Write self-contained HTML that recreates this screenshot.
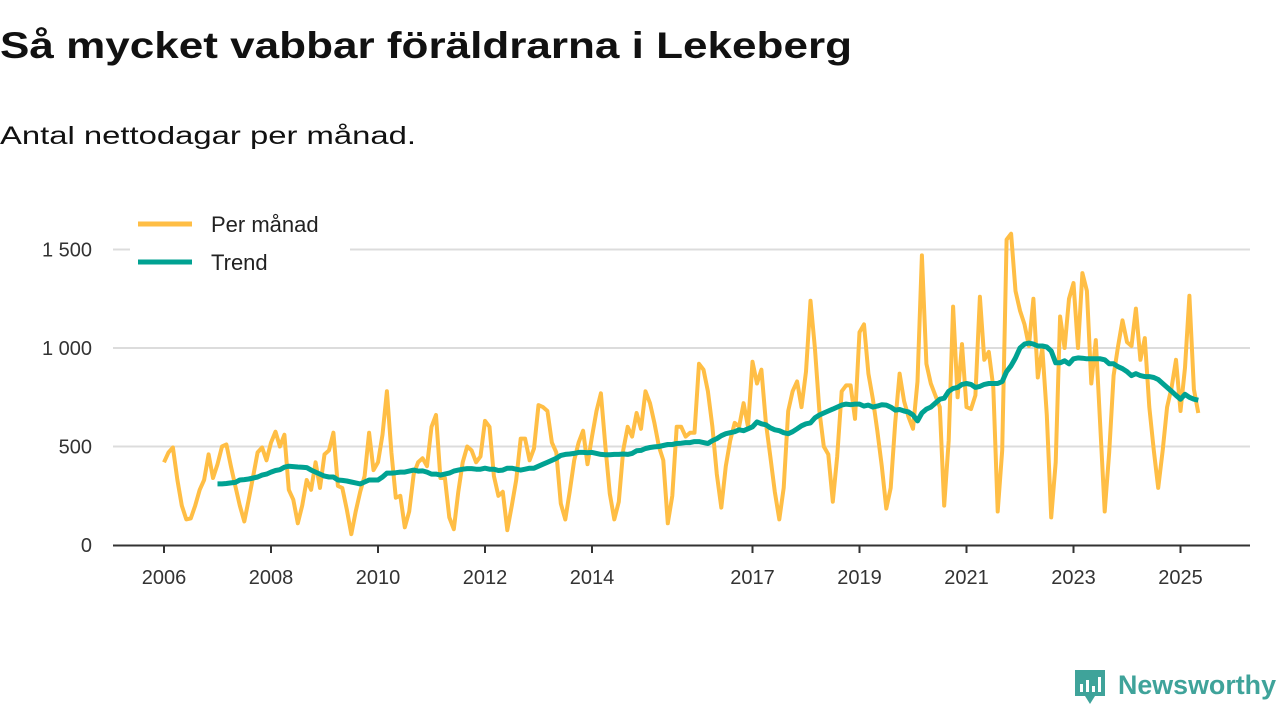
<!DOCTYPE html>
<html><head><meta charset="utf-8"><style>
body{margin:0;background:#fff;width:1280px;height:720px;overflow:hidden;font-family:"Liberation Sans","DejaVu Sans",sans-serif}
</style></head><body>
<svg width="1280" height="720" xmlns="http://www.w3.org/2000/svg" font-family="Liberation Sans, DejaVu Sans, sans-serif">
<text x="0" y="58" font-size="37" font-weight="bold" fill="#111" textLength="852" lengthAdjust="spacingAndGlyphs">Så mycket vabbar föräldrarna i Lekeberg</text>
<text x="0" y="144" font-size="25" fill="#111" textLength="416" lengthAdjust="spacingAndGlyphs">Antal nettodagar per månad.</text>
<g id="grid"></g>
<g id="axes"></g>
<g id="series"></g>
<g>
<rect x="130" y="205" width="220" height="78" fill="#fff"/>
<line x1="138" y1="224" x2="192" y2="224" stroke="#ffbe45" stroke-width="5"/>
<text x="211" y="232" font-size="22" fill="#222">Per månad</text>
<line x1="138" y1="262" x2="192" y2="262" stroke="#00a292" stroke-width="5"/>
<text x="211" y="270" font-size="22" fill="#222">Trend</text>
</g>
<g>
<path d="M1075 670h30v26h-10l-5 8-5-8h-10z" fill="#3fa39a"/>
<rect x="1080" y="684" width="3" height="8" fill="#fff"/><rect x="1086" y="680" width="3" height="12" fill="#fff"/><rect x="1092" y="686" width="3" height="6" fill="#fff"/><rect x="1098" y="677" width="3" height="15" fill="#fff"/>
<text x="1118" y="694" font-size="27" font-weight="bold" fill="#3fa39a" textLength="158" lengthAdjust="spacingAndGlyphs">Newsworthy</text>
</g>
</svg>
<script>
const years=[2006,2008,2010,2012,2014,2017,2019,2021,2023,2025];
const yTicks=[0,500,1000,1500];
const yTickLabels=["0","500","1 000","1 500"];
const monthly=[
420,470,495,330,200,130,135,200,280,330,460,340,
410,500,510,400,300,200,120,230,350,470,495,430,
520,575,500,560,280,230,110,200,330,280,420,290,
460,480,570,300,290,180,55,170,270,350,570,380,
420,560,780,470,240,250,90,170,360,420,440,400,
600,660,340,340,140,80,270,420,500,480,420,450,
630,600,350,250,270,75,200,330,540,540,430,490,
710,700,680,520,470,210,130,270,430,520,580,410,
550,680,770,500,260,130,220,480,600,550,670,590,
780,720,620,500,430,110,250,600,600,550,570,570,
920,890,780,600,360,190,400,530,620,600,720,600,
930,820,890,620,450,270,130,290,680,780,830,700,
880,1240,1000,680,500,460,220,450,780,810,810,640,
1080,1120,870,740,580,400,185,290,620,870,730,650,
590,830,1470,920,820,760,700,200,530,1210,750,1020,
700,690,760,1260,940,980,800,170,480,1550,1580,1290,
1190,1120,1010,1250,850,1000,660,140,420,1160,1000,1250,
1330,1000,1380,1290,820,1040,600,170,470,860,1010,1140,
1030,1010,1200,940,1050,700,480,290,480,700,800,940,
680,900,1265,790,670];
const trend=[
310,310,312,315,318,330,332,335,340,345,355,360,
370,378,382,395,400,398,396,395,393,380,370,360,
350,345,345,330,328,325,320,315,310,320,330,330,
330,345,365,365,367,370,370,375,380,375,376,370,
360,360,355,360,365,375,380,385,388,388,385,385,
390,385,385,378,380,390,390,385,380,385,390,390,
400,410,420,430,440,455,460,462,465,470,470,468,
470,465,460,458,458,460,460,462,460,465,478,480,
490,495,498,500,505,510,510,515,517,520,520,525,
525,520,515,530,540,555,565,570,575,585,580,590,
600,625,615,610,595,585,580,570,565,575,590,605,
615,620,645,660,670,680,690,700,710,715,712,715,
715,705,710,700,705,712,710,700,685,688,680,675,
660,630,670,690,700,720,740,745,780,795,800,815,
820,815,800,805,815,820,820,820,830,880,910,950,
1000,1020,1025,1020,1010,1010,1005,985,925,925,935,920,
945,950,948,945,945,945,945,940,920,920,905,895,
880,860,870,860,855,855,850,840,820,800,780,760,
740,765,750,740,735];
const NS="http://www.w3.org/2000/svg";
const x=t=>164+(t-2006)*53.5;
const y=v=>545-v*0.197;
function mk(tag,attrs,parent){const e=document.createElementNS(NS,tag);for(const k in attrs)e.setAttribute(k,attrs[k]);document.getElementById(parent).appendChild(e);return e;}
yTicks.forEach((v,i)=>{
  if(v>0){const g=mk('line',{x1:113,x2:1250,y1:y(v),y2:y(v),stroke:'#dcdcdc','stroke-width':2},'grid');
  
  }
  const t=mk('text',{x:92,y:y(v)+7,'font-size':20,fill:'#333','text-anchor':'end'},'axes');t.textContent=yTickLabels[i];
  
  
});
const ax=mk('line',{x1:113,x2:1250,y1:545.5,y2:545.5,stroke:'#333','stroke-width':2},'axes');


years.forEach(yr=>{
  const tk=mk('line',{x1:x(yr),x2:x(yr),y1:545,y2:553,stroke:'#333','stroke-width':2},'axes');
  
  
  const t=mk('text',{x:x(yr),y:584,'font-size':20,fill:'#333','text-anchor':'middle'},'axes');t.textContent=yr;
  
  
});
const pm=monthly.map((v,i)=>x(2006+i/12).toFixed(1)+','+y(v).toFixed(1)).join(' ');
const l1=mk('polyline',{points:pm,fill:'none',stroke:'#ffbe45','stroke-width':4,'stroke-linejoin':'round'},'series');


const pt=trend.map((v,i)=>x(2007+i/12).toFixed(1)+','+y(v).toFixed(1)).join(' ');
const l2=mk('polyline',{points:pt,fill:'none',stroke:'#00a292','stroke-width':5,'stroke-linejoin':'round'},'series');


</script>
</body></html>
